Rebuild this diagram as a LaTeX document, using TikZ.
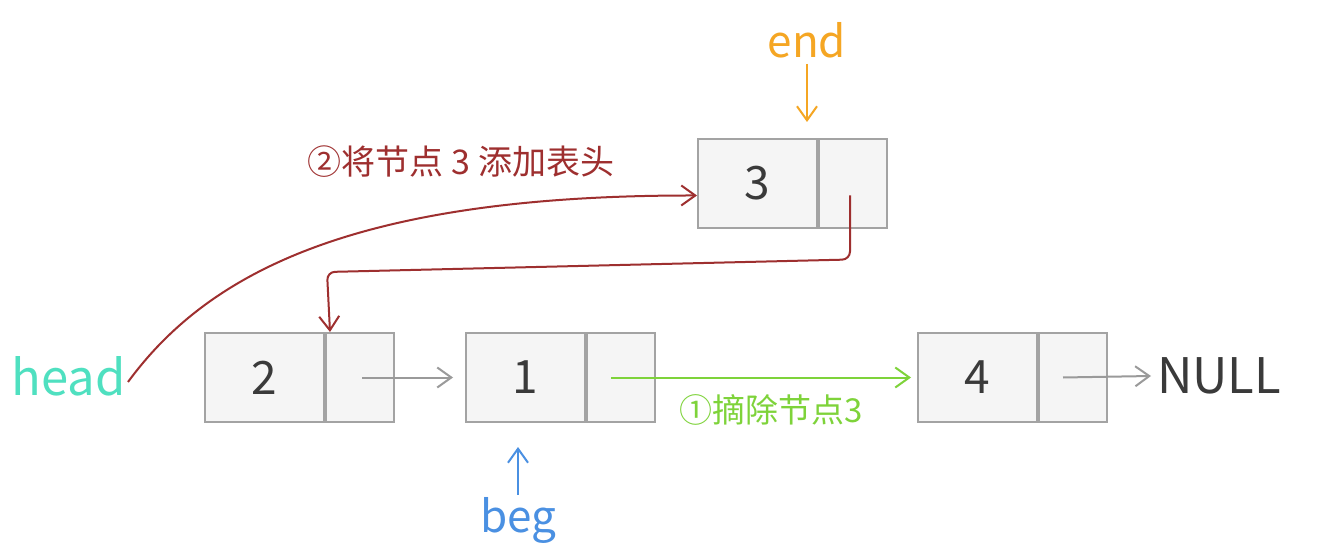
\documentclass[tikz,border=0pt]{standalone}
\usepackage{fontspec}
\setmainfont{Noto Sans CJK SC}
\usetikzlibrary{arrows.meta}
\definecolor{boxfill}{HTML}{F5F5F5}
\definecolor{boxline}{HTML}{A3A3A3}
\definecolor{txtdark}{HTML}{3A3A3A}
\definecolor{grayarr}{HTML}{9A9A9A}
\definecolor{headc}{HTML}{4FE0C0}
\definecolor{endc}{HTML}{F5A623}
\definecolor{begc}{HTML}{4A90E2}
\definecolor{redc}{HTML}{9E2F2F}
\definecolor{greenc}{HTML}{7ED33A}
\tikzset{
  valbox/.style={draw=boxline, fill=boxfill, line width=2pt, minimum width=119pt, minimum height=89pt, inner sep=0pt, anchor=north west, text=txtdark, font=\fontsize{46}{50}\selectfont},
  ptrbox/.style={draw=boxline, fill=boxfill, line width=2pt, minimum width=68pt, minimum height=89pt, inner sep=0pt, anchor=north west},
  conn/.style={-{Straight Barb[length=14pt,width=20pt,line width=2pt]}, line width=2pt},
  biglabel/.style={inner sep=0pt, font=\fontsize{44}{48}\selectfont},
  cnlabel/.style={inner sep=0pt, font=\fontsize{33}{36}\selectfont}
}
\begin{document}
\begin{tikzpicture}[x=1pt,y=-1pt]
\useasboundingbox (0,0) rectangle (1342,556);
\fill[white] (0,0) rectangle (1342,556);

% boxes
\node[valbox] (v3) at (697,138) {3};
\node[ptrbox] (p3) at (v3.north east) {};
\node[valbox] (v2) at (204,332) {2};
\node[ptrbox] (p2) at (v2.north east) {};
\node[valbox] (v1) at (465,332) {1};
\node[ptrbox] (p1) at (v1.north east) {};
\node[valbox] (v4) at (917,332) {4};
\node[ptrbox] (p4) at (v4.north east) {};

% labels
\node[biglabel, text=headc, anchor=east, font=\fontsize{49}{52}\selectfont] (head) at (126,376) {head};
\node[biglabel, text=endc] (end) at (807,40) {end};
\node[biglabel, text=begc] (beg) at (518,520) {beg};
\node[biglabel, text=txtdark, anchor=west, font=\fontsize{49}{52}\selectfont] (null) at (1157,376) {NULL};
\node[cnlabel, text=redc, font=\fontsize{34}{38}\selectfont] (lab2) at (461,162) {②将节点 3 添加表头};
\node[cnlabel, text=greenc] (lab1) at (771,410) {①摘除节点3};

% pointer arrows
\draw[conn, endc] ([yshift=-6pt]end.south) -- ([yshift=16pt]end.south |- v3.north);
\draw[conn, begc] ([yshift=2pt]beg.north) -- ([yshift=-24pt]beg.north |- v1.south);
\draw[conn, grayarr] ([xshift=2pt]p2.center) -- ([xshift=-12pt]v1.west);
\draw[conn, greenc] ([xshift=-10pt]p1.center) -- ([xshift=-6pt]v4.west);
\draw[conn, grayarr] ([xshift=-10pt]p4.center) -- ([xshift=-6pt]null.west);

% red arrows
\draw[conn, redc] ([xshift=2pt,yshift=-6pt]head.east) .. controls (210,270) and (360,195) .. ([yshift=-12pt]v3.west);
\coordinate (r1) at ([xshift=-3pt,yshift=-12pt]p3.center);
\draw[conn, redc, rounded corners=8pt] (r1) -- ++(0,64) -- (327,272) -- ([xshift=5pt]v2.north east);
\end{tikzpicture}
\end{document}
